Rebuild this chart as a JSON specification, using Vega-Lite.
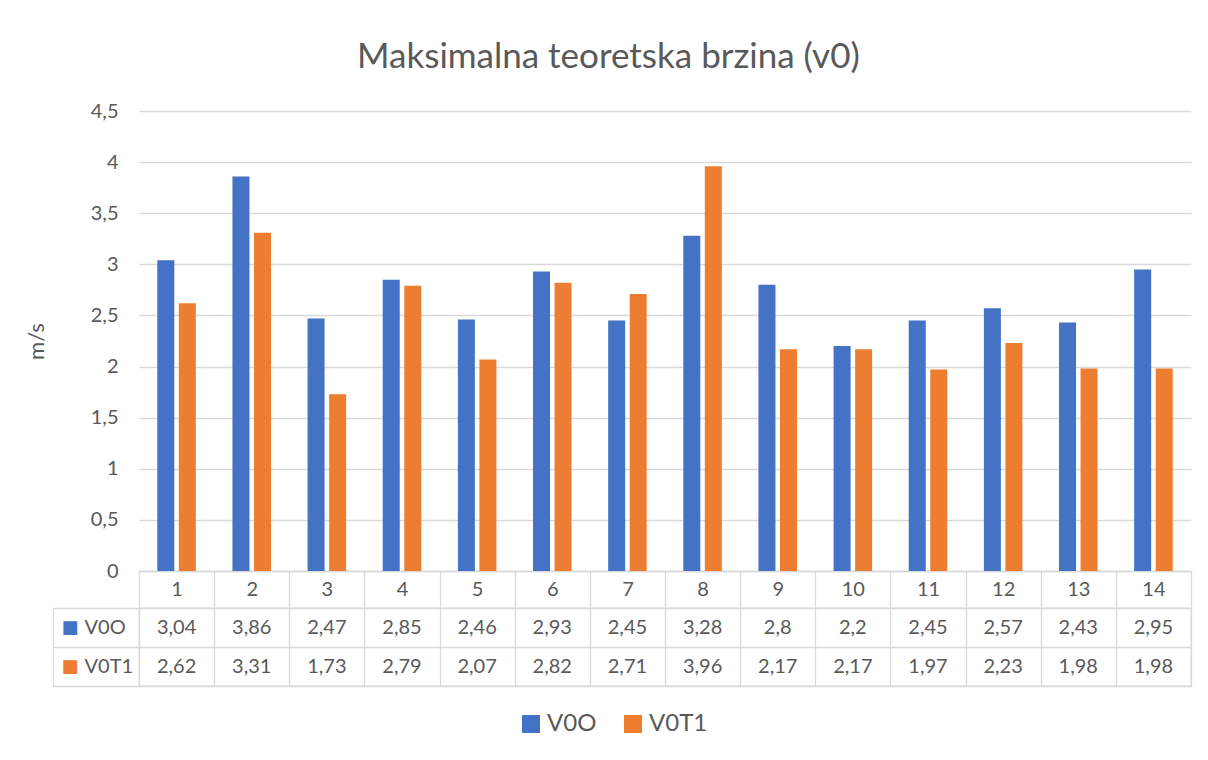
{
  "$schema": "https://vega.github.io/schema/vega-lite/v6.json",
  "padding": {"left": 25, "top": 40, "right": 5, "bottom": 5},
  "background": "white",
  "title": {"text": "Maksimalna teoretska brzina (v0)", "anchor": "middle", "font": "Lato", "fontSize": 35, "fontWeight": "normal", "color": "#595959", "offset": 26},
  "data": {"values": [
    {"cat": 1, "series": "V0O", "v": 3.04}, {"cat": 2, "series": "V0O", "v": 3.86}, {"cat": 3, "series": "V0O", "v": 2.47},
    {"cat": 4, "series": "V0O", "v": 2.85}, {"cat": 5, "series": "V0O", "v": 2.46}, {"cat": 6, "series": "V0O", "v": 2.93},
    {"cat": 7, "series": "V0O", "v": 2.45}, {"cat": 8, "series": "V0O", "v": 3.28}, {"cat": 9, "series": "V0O", "v": 2.8},
    {"cat": 10, "series": "V0O", "v": 2.2}, {"cat": 11, "series": "V0O", "v": 2.45}, {"cat": 12, "series": "V0O", "v": 2.57},
    {"cat": 13, "series": "V0O", "v": 2.43}, {"cat": 14, "series": "V0O", "v": 2.95},
    {"cat": 1, "series": "V0T1", "v": 2.62}, {"cat": 2, "series": "V0T1", "v": 3.31}, {"cat": 3, "series": "V0T1", "v": 1.73},
    {"cat": 4, "series": "V0T1", "v": 2.79}, {"cat": 5, "series": "V0T1", "v": 2.07}, {"cat": 6, "series": "V0T1", "v": 2.82},
    {"cat": 7, "series": "V0T1", "v": 2.71}, {"cat": 8, "series": "V0T1", "v": 3.96}, {"cat": 9, "series": "V0T1", "v": 2.17},
    {"cat": 10, "series": "V0T1", "v": 2.17}, {"cat": 11, "series": "V0T1", "v": 1.97}, {"cat": 12, "series": "V0T1", "v": 2.23},
    {"cat": 13, "series": "V0T1", "v": 1.98}, {"cat": 14, "series": "V0T1", "v": 1.98}
  ]},
  "spacing": -12,
  "vconcat": [
    {
      "width": 1052,
      "height": 460,
      "mark": {"type": "bar"},
      "encoding": {
        "x": {"field": "cat", "type": "ordinal", "sort": "ascending",
          "scale": {"paddingInner": 0, "paddingOuter": 0},
          "axis": {"title": null, "tickBand": "extent", "tickSize": 36, "tickColor": "#d9d9d9", "tickWidth": 1.3,
            "domainColor": "#d9d9d9", "domainWidth": 1.3, "labelPadding": -28, "labelAngle": 0,
            "labelFont": "Lato", "labelFontSize": 20, "labelColor": "#595959", "grid": false}},
        "xOffset": {"field": "series", "type": "nominal", "scale": {"domain": ["V0O", "V0T1"], "paddingInner": 0.21, "paddingOuter": 0.85}},
        "y": {"field": "v", "type": "quantitative",
          "scale": {"domain": [0, 4.5], "nice": false},
          "axis": {"title": "m/s", "values": [0, 0.5, 1, 1.5, 2, 2.5, 3, 3.5, 4, 4.5], "labelExpr": "replace(format(datum.value, '~g'), '.', ',')",
            "domain": false, "ticks": false, "grid": true, "gridColor": "#d9d9d9", "gridWidth": 1.3,
            "labelPadding": 21, "labelFont": "Lato", "labelFontSize": 20, "labelColor": "#595959",
            "titleFont": "Lato", "titleFontSize": 22, "titleFontWeight": "normal", "titleColor": "#595959", "titlePadding": 42}},
        "color": {"field": "series", "type": "nominal",
          "scale": {"domain": ["V0O", "V0T1"], "range": ["#4472C4", "#ED7D31"]},
          "legend": {"orient": "none", "legendX": 380, "legendY": 601, "direction": "horizontal", "title": null, "symbolType": "square", "symbolSize": 324,
            "symbolStrokeWidth": 0, "labelFont": "Lato", "labelFontSize": 24, "labelColor": "#595959", "columnPadding": 24}}
      }
    },
    {
      "width": 1052,
      "height": 78,
      "view": {"stroke": "#d9d9d9", "strokeWidth": 1.3},
      "transform": [{"calculate": "replace(toString(datum.v), '.', ',')", "as": "label"}],
      "layer": [
        {
          "mark": {"type": "text", "font": "Lato", "fontSize": 20, "color": "#595959"},
          "encoding": {
            "x": {"field": "cat", "type": "ordinal", "sort": "ascending", "scale": {"paddingInner": 0, "paddingOuter": 0},
              "axis": {"title": null, "labels": false, "ticks": false, "domain": false, "grid": true, "tickBand": "extent", "gridColor": "#d9d9d9", "gridWidth": 1.3}},
            "y": {"field": "series", "type": "nominal", "scale": {"domain": ["V0O", "V0T1"], "paddingInner": 0, "paddingOuter": 0},
              "axis": {"title": null, "orient": "left", "tickBand": "extent", "tickSize": 86, "tickColor": "#d9d9d9", "tickWidth": 1.3,
                "grid": true, "gridColor": "#d9d9d9", "gridWidth": 1.3, "domain": false,
                "labelAlign": "left", "labelPadding": -31, "labelFont": "Lato", "labelFontSize": 20, "labelColor": "#595959"}},
            "text": {"field": "label", "type": "nominal"}
          }
        },
        {
          "mark": {"type": "point", "opacity": 0},
          "encoding": {
            "x": {"field": "cat", "type": "ordinal", "sort": "ascending"},
            "y": {"field": "series", "type": "nominal",
              "axis": {"title": null, "orient": "left", "offset": 86, "ticks": false, "grid": false, "domain": true, "domainColor": "#d9d9d9", "domainWidth": 1.3,
                "labelAlign": "left", "labelPadding": -8, "labelExpr": "'■'", "labelFont": "DejaVu Sans", "labelFontSize": 18,
                "labelColor": {"condition": {"test": "datum.value === 'V0O'", "value": "#4472C4"}, "value": "#ED7D31"}}}
          }
        }
      ],
      "resolve": {"axis": {"y": "independent"}}
    }
  ],
  "config": {"view": {"stroke": null}, "font": "Lato"}
}
